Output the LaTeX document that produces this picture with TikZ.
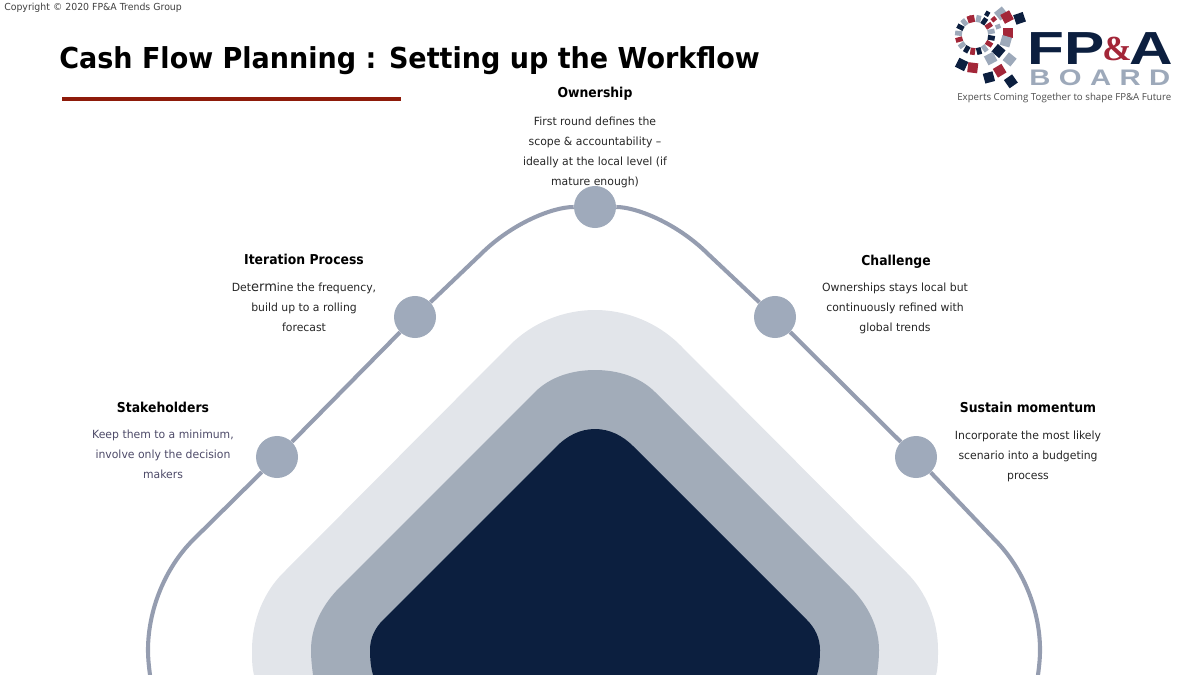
\documentclass[tikz,border=0pt]{standalone}
\usepackage{xcolor}
\usepackage{fontspec}
\usepackage{tikz}
\setmainfont[FakeStretch=0.965]{DejaVu Sans}
\newfontfamily\headfont[FakeStretch=0.91]{DejaVu Sans}
\newfontfamily\titlefont[FakeStretch=0.937]{DejaVu Sans}
\newfontfamily\logofont[FakeStretch=1.3]{Liberation Sans}
\newfontfamily\logoserif{Liberation Serif}
\newfontfamily\tagfont{Open Sans}
\definecolor{navy}{HTML}{0C1F3F}
\definecolor{slate}{HTML}{A2ACB9}
\definecolor{mist}{HTML}{E2E5EA}
\definecolor{dotgrey}{HTML}{9FAABB}
\definecolor{linegrey}{HTML}{959DB0}
\definecolor{logored}{HTML}{A32638}
\definecolor{logoslate}{HTML}{9DA9BA}
\definecolor{rulered}{HTML}{8E1B0A}
\definecolor{plumtext}{HTML}{4D4A68}
\tikzset{
    dot/.style={circle, fill=dotgrey, inner sep=0pt, minimum size=1.05cm},
    head/.style={font=\headfont\bfseries\fontsize{9.7}{12}\selectfont, text=black, inner sep=0pt},
    body/.style={font=\fontsize{8}{14.2}\selectfont, align=center, text=black!85, inner sep=0pt},
    track/.style={draw=linegrey, line width=2.9pt},
}
\begin{document}
\begin{tikzpicture}[x=0.025cm, y=-0.025cm]
    \useasboundingbox (0, 0) rectangle (1200, 675);

    % nested shapes
    \fill[mist] (254, 675) .. controls (252, 667) and (252, 659) .. (252, 650) .. controls (252, 620) and (264, 592) .. (283, 573) -- (510, 345) .. controls (532, 323) and (563, 310) .. (595, 310) .. controls (627, 310) and (658, 323) .. (680, 345) -- (907, 573) .. controls (926, 592) and (938, 620) .. (938, 650) .. controls (938, 659) and (938, 667) .. (936, 675) -- cycle;
    \fill[slate] (313, 675) .. controls (312, 667) and (311, 659) .. (311, 650) .. controls (311, 627) and (322, 605) .. (340, 587) -- (535, 392) .. controls (550.5, 376.5) and (573, 370) .. (595, 370) .. controls (617, 370) and (639.5, 376.5) .. (655, 392) -- (850, 587) .. controls (868, 605) and (879, 627) .. (879, 650) .. controls (879, 659) and (878, 667) .. (877, 675) -- cycle;
    \fill[navy] (373, 675) .. controls (371, 668) and (370, 660) .. (370, 650) .. controls (370, 638) and (375, 628) .. (383, 620) -- (557, 446) .. controls (567, 436) and (580, 429) .. (595, 429) .. controls (610, 429) and (623, 436) .. (633, 446) -- (807, 620) .. controls (815, 628) and (820, 638) .. (820, 650) .. controls (820, 660) and (819, 668) .. (817, 675) -- cycle;

    \node[dot] at (277, 457) (dotL2) {};
    \node[dot] at (415, 317) (dotL1) {};
    \node[dot] at (595, 207) (dotTop) {};
    \node[dot] at (775, 317) (dotR1) {};
    \node[dot] at (916, 457) (dotR2) {};

    \coordinate (startL) at (150, 675);
    \coordinate (startR) at (1038, 675);
    \coordinate (bendL) at (481, 254);
    \coordinate (bendR) at (708, 254);

    \draw[track] (startL) .. controls (149, 667) and (148, 659) .. (148, 650) .. controls (148, 610) and (165, 568) .. (193, 540) -- (dotL2);
    \draw[track] (dotL2) -- (dotL1);
    \draw[track] (dotL1) -- (bendL) .. controls (511, 224) and (552, 207) .. (dotTop);
    \draw[track] (dotTop) .. controls (637, 207) and (678, 224) .. (bendR) -- (dotR1);
    \draw[track] (dotR1) -- (dotR2);
    \draw[track] (dotR2) -- (995, 540) .. controls (1023, 568) and (1040, 610) .. (1040, 650) .. controls (1040, 659) and (1039, 667) .. (startR);

    \node[head] at (163, 407) (headL2) {Stakeholders};
    \node[body, text=plumtext] at (163, 454) (bodyL2) {Keep them to a minimum,\\involve only the decision\\makers};
    \node[head] at (304, 259) (headL1) {Iteration Process};
    \node[body] at (304, 307) (bodyL1) {Det{\fontsize{9.6}{14.2}\selectfont erm}ine the frequency,\\build up to a rolling\\forecast};
    \node[head] at (595, 93.5) (headTop) {Ownership};
    \node[body] at (595, 152) (bodyTop) {First round defines the\\scope \& accountability –\\ideally at the local level (if\\mature enough)};
    \node[head] at (896, 261.5) (headR1) {Challenge};
    \node[body] at (895, 308) (bodyR1) {Ownerships stays local but\\continuously refined with\\global trends};
    \node[head] at (1028, 407) (headR2) {Sustain momentum};
    \node[body] at (1028, 456) (bodyR2) {Incorporate the most likely\\scenario into a budgeting\\process};

    % title block
    \node[anchor=west, inner sep=0pt, text=black!75, font=\fontsize{6.9}{8}\selectfont] at (4, 8) (copyright) {Copyright © 2020 FP\&A Trends Group};
    \node[anchor=west, inner sep=0pt, text=black, font=\titlefont\bfseries\fontsize{20.5}{24}\selectfont] at (59, 61) (title) {Cash Flow Planning : Setting up the Workflow};
    \coordinate (ruleA) at (62, 99);
    \coordinate (ruleB) at (401, 99);
    \draw[rulered, line width=2.2pt] (ruleA) -- (ruleB);

    % logo
    \foreach \a/\r/\c in {19/45/navy, 39/31/logoslate, 28/34/logored, 0/31/logored, -16/30/logoslate, -40/28/navy, -62/29/logoslate, -39/42/logoslate, -59/44/logored, -75/46/navy, -55/59/navy, -97/35/logored, -116/35/navy}
        \fill[\c, shift={(977, 33)}, rotate=\a] (\r-5, -5) rectangle (\r+5, 5);
    \foreach \a/\c in {100/logored, 78/logoslate, 56/navy, 34/logored, 12/logoslate, -10/navy, -32/logored, -54/logoslate, -76/navy, -98/logored, -120/navy, -142/logoslate, -164/logored, -186/logoslate, -208/navy, -230/logoslate, -252/logored}
        \fill[\c, shift={(975, 35)}, rotate=\a] (13, -2.4) rectangle (20, 2.4);
    \foreach \a/\c in {60/navy, 40/logored, 20/logoslate}
        \fill[\c, shift={(975, 35)}, rotate=\a] (22, -2.2) rectangle (27, 2.2);

    \node[anchor=west, inner sep=0pt, text=navy, font=\logofont\bfseries\fontsize{33}{36}\selectfont] at (1027, 49) (logoFP) {FP};
    \node[anchor=west, inner sep=0pt, text=logored, font=\logoserif\bfseries\fontsize{25}{28}\selectfont] at (1102, 49) (logoAmp) {\&};
    \node[anchor=west, inner sep=0pt, text=navy, font=\logofont\bfseries\fontsize{33}{36}\selectfont] at (1129, 49) (logoA) {A};
    \node[anchor=west, inner sep=0pt, text=logoslate, font=\logofont\bfseries\fontsize{16}{20}\selectfont] at (1029, 78) (logoBoard) {B\hspace{6pt}O\hspace{6pt}A\hspace{6pt}R\hspace{6pt}D};
    \node[anchor=west, inner sep=0pt, text=black!70, font=\tagfont\fontsize{6.9}{9}\selectfont] at (957, 98) (logoTag) {Experts Coming Together to shape FP\&A Future};
\end{tikzpicture}
\end{document}
